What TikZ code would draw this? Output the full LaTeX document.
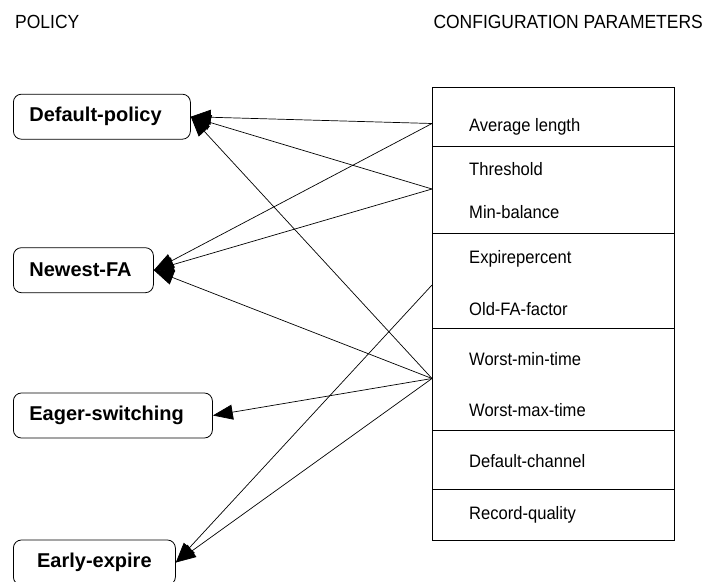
\documentclass[tikz,border=0pt]{standalone}
\usepackage{fontspec}
\setmainfont{Liberation Sans}
\newfontfamily\narrowfont[FakeStretch=0.92]{Liberation Sans}
\usetikzlibrary{arrows.meta}

\tikzset{
  heading/.style={anchor=base west, inner sep=0pt, font=\narrowfont\fontsize{19}{22}\selectfont},
  param/.style={anchor=base west, inner sep=0pt, font=\narrowfont\fontsize{18}{21}\selectfont},
  policy/.style={draw, line width=0.8pt, rounded corners=8pt, anchor=west,
    minimum height=45pt, inner xsep=16pt, inner ysep=0pt,
    font=\bfseries\fontsize{20}{24}\selectfont},
  section/.style={draw, line width=0.8pt, anchor=north west, inner sep=0pt,
    minimum width=242pt},
  link/.style={line width=0.7pt, -{Triangle[length=20pt,width=15pt]}},
}

\begin{document}
\begin{tikzpicture}[x=1pt,y=-1pt]
\useasboundingbox (0,0) rectangle (714,581);

% column headings
\node[heading] (hpol) at (15,28.3) {POLICY};
\node[heading] (hcfg) at (433.3,28.3) {CONFIGURATION PARAMETERS};

% policies
\node[policy, text width=145pt] (dp) at (13,116.7) {Default-policy};
\node[policy, text width=108pt] (nf) at (13,270.2) {Newest-FA};
\node[policy, text width=167pt] (es) at (13,415.5) {Eager-switching};
\node[policy, text width=130pt, align=center] (ee) at (13,562.5) {Early-expire};

% parameter groups
\node[section, minimum height=58.4pt]  (s1) at (432,87.3)  {};
\node[section, minimum height=87.6pt]  (s2) at (432,145.7) {};
\node[section, minimum height=95pt]    (s3) at (432,233.3) {};
\node[section, minimum height=102pt]   (s4) at (432,328.3) {};
\node[section, minimum height=59pt]    (s5) at (432,430.3) {};
\node[section, minimum height=50.7pt]  (s6) at (432,489.3) {};

% parameter names
\node[param] (p1) at (469,131)   {Average length};
\node[param] (p2) at (469,175)   {Threshold};
\node[param] (p3) at (469,218.3) {Min-balance};
\node[param] (p4) at (469,263.3) {Expirepercent};
\node[param] (p5) at (469,315)   {Old-FA-factor};
\node[param] (p6) at (469,365.7) {Worst-min-time};
\node[param] (p7) at (469,416.7) {Worst-max-time};
\node[param] (p8) at (469,467.7) {Default-channel};
\node[param] (p9) at (469,519)   {Record-quality};

% connector origins on the left side of the groups
\coordinate (ga) at (432,123.5);
\coordinate (gb) at (432,189);
\coordinate (gc) at (432,285);
\coordinate (gd) at (432,378.5);

% connectors
\draw[link] (ga) -- (dp.east);
\draw[link] (gb) -- (dp.east);
\draw[link] (gd) -- (dp.east);
\draw[link] (ga) -- (nf.east);
\draw[link] (gb) -- (nf.east);
\draw[link] (gd) -- (nf.east);
\draw[link] (gd) -- (es.east);
\draw[link] (gc) -- (ee.east);
\draw[link] (gd) -- (ee.east);
\end{tikzpicture}
\end{document}
